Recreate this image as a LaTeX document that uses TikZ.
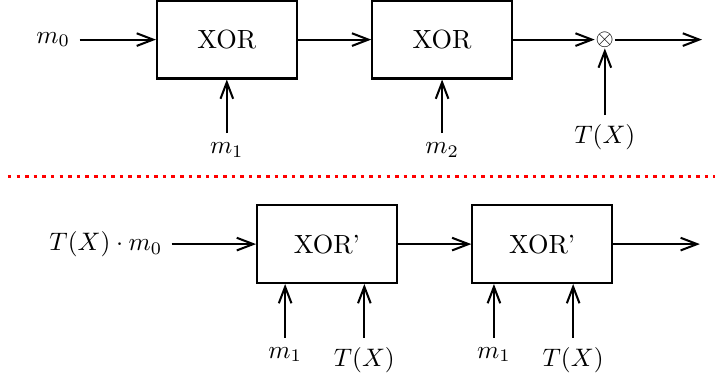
\documentclass[tikz,border=0pt]{standalone}
\usetikzlibrary{arrows.meta}
\begin{document}
\begin{tikzpicture}[->,>={Straight Barb[length=6.5pt,width=5pt]},thick,
    every node/.style={font=\fontsize{10.4}{12.5}\selectfont}]
    \tikzstyle{block}=[draw,rectangle,minimum width=1.94cm,minimum height=1.08cm]
    \tikzstyle{input}=[anchor=north]
    \useasboundingbox (0,0) rectangle (9.93,-5.25);

    % Draw the first chain of XOR blocks
    \node (m0) at (0.74,-0.55) {$m_0$};
    \node[block] (X-1) at (3.15,-0.55) {XOR};
    \node[block] (X-2) at (6.14,-0.55) {XOR};
    \node[inner sep=0pt,font=\small] (mul) at (8.40,-0.55) {$\otimes$};
    \coordinate (out-1) at (9.75,-0.55);

    % Draw the inputs from below
    \node[input] (m1) at (3.15,-1.85) {$m_1$};
    \node[input] (m2) at (6.14,-1.85) {$m_2$};
    \node[input] (tx) at (8.40,-1.60) {$T(X)$};

    % Connect the first chain
    \draw (m0) -- (X-1);
    \draw (X-1) -- (X-2);
    \draw (X-2) -- (mul);
    \draw (mul) -- (out-1);
    \draw (m1) -- (X-1);
    \draw (m2) -- (X-2);
    \draw (tx) -- (mul);

    % Separate the two chains
    \draw[-,red,dotted,line width=1.4pt] (0.11,-2.45) -- (9.93,-2.45);

    % Draw the second chain of XOR' blocks
    \node (in) at (1.47,-3.39) {$T(X)\cdot m_0$};
    \node[block] (Y-1) at (4.54,-3.39) {XOR'};
    \node[block] (Y-2) at (7.53,-3.39) {XOR'};
    \coordinate (out-2) at (9.72,-3.39);

    \draw (in) -- (Y-1);
    \draw (Y-1) -- (Y-2);
    \draw (Y-2) -- (out-2);

    % Every XOR' block gets m_1 and T(X) from below
    \foreach \name/\x/\lab/\blk in {a/3.96/m_1/Y-1, b/5.06/T(X)/Y-1, c/6.86/m_1/Y-2, d/7.96/T(X)/Y-2}
    {
        \node[input] (\name) at (\x,-4.69) {$\lab$};
        \draw (\name) -- (\blk.south -| \name);
    }
\end{tikzpicture}
\end{document}
